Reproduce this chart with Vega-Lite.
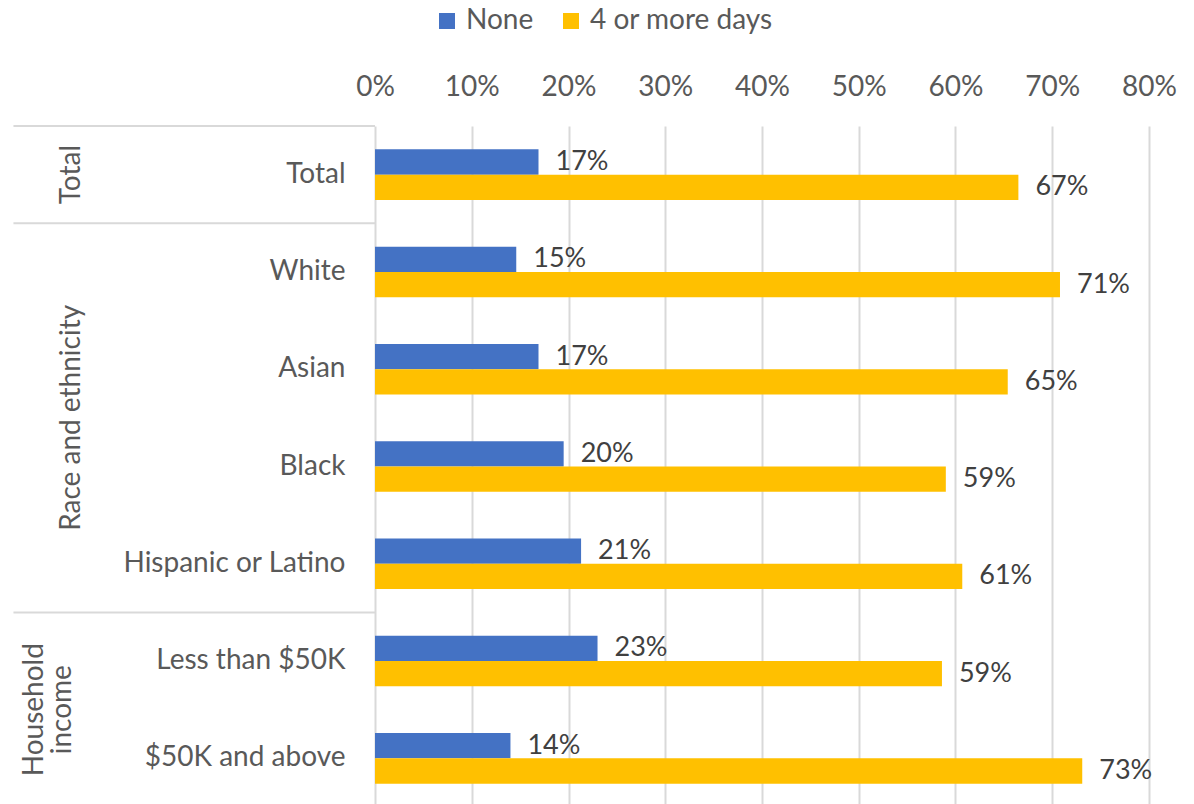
{
  "$schema": "https://vega.github.io/schema/vega-lite/v6.json",
  "autosize": {"type": "none"},
  "padding": {"left": 375, "top": 126, "right": 45, "bottom": 0},
  "width": 774,
  "height": 681,
  "background": "white",
  "config": {
    "view": {"stroke": null},
    "font": "Lato",
    "axis": {"labelFont": "Lato", "labelFontSize": 28, "labelColor": "#595959"},
    "legend": {"labelFont": "Lato", "labelFontSize": 28, "labelColor": "#595959", "labelLimit": 400}
  },
  "datasets": {
    "bars": [
      {"group": "Total", "category": "Total", "series": "None", "value": 0.169},
      {"group": "Total", "category": "Total", "series": "4 or more days", "value": 0.665},
      {"group": "Race and ethnicity", "category": "White", "series": "None", "value": 0.146},
      {"group": "Race and ethnicity", "category": "White", "series": "4 or more days", "value": 0.708},
      {"group": "Race and ethnicity", "category": "Asian", "series": "None", "value": 0.169},
      {"group": "Race and ethnicity", "category": "Asian", "series": "4 or more days", "value": 0.654},
      {"group": "Race and ethnicity", "category": "Black", "series": "None", "value": 0.195},
      {"group": "Race and ethnicity", "category": "Black", "series": "4 or more days", "value": 0.59},
      {"group": "Race and ethnicity", "category": "Hispanic or Latino", "series": "None", "value": 0.213},
      {"group": "Race and ethnicity", "category": "Hispanic or Latino", "series": "4 or more days", "value": 0.607},
      {"group": "Household income", "category": "Less than $50K", "series": "None", "value": 0.23},
      {"group": "Household income", "category": "Less than $50K", "series": "4 or more days", "value": 0.586},
      {"group": "Household income", "category": "$50K and above", "series": "None", "value": 0.14},
      {"group": "Household income", "category": "$50K and above", "series": "4 or more days", "value": 0.731}
    ],
    "groups": [
      {"group": "Total", "label": "Total", "first": "Total"},
      {"group": "Race and ethnicity", "label": "Race and ethnicity", "first": "White"},
      {"group": "Household income", "label": "Household\nincome", "first": "Less than $50K"}
    ]
  },
  "layer": [
    {
      "data": {"name": "bars"},
      "mark": {"type": "bar"},
      "encoding": {
        "y": {
          "field": "category", "type": "nominal",
          "sort": ["Total", "White", "Asian", "Black", "Hispanic or Latino", "Less than $50K", "$50K and above"],
          "scale": {"domain": ["Total", "White", "Asian", "Black", "Hispanic or Latino", "Less than $50K", "$50K and above"], "paddingInner": 0, "paddingOuter": 0},
          "axis": {"title": null, "domain": false, "ticks": false, "tickSize": 0, "labelPadding": 30, "labelLimit": 400}
        },
        "yOffset": {
          "field": "series", "type": "nominal",
          "sort": ["None", "4 or more days"],
          "scale": {"domain": ["None", "4 or more days"], "paddingInner": 0, "paddingOuter": 0.923}
        },
        "x": {
          "field": "value", "type": "quantitative",
          "scale": {"domain": [0, 0.8], "nice": false, "zero": true},
          "axis": {"orient": "top", "title": null, "values": [0, 0.1, 0.2, 0.3, 0.4, 0.5, 0.6, 0.7, 0.8], "format": ".0%", "grid": true, "gridColor": "#d9d9d9", "gridWidth": 2, "domain": false, "ticks": false, "tickSize": 0, "labelPadding": 25, "labelFlush": false, "labelOverlap": false}
        },
        "color": {
          "field": "series", "type": "nominal",
          "scale": {"domain": ["None", "4 or more days"], "range": ["#4472C4", "#FFC000"]},
          "legend": {"title": null, "orient": "none", "legendX": 58, "legendY": -119, "direction": "horizontal", "symbolType": "square", "symbolSize": 256, "symbolStrokeWidth": 0, "columnPadding": 23, "labelOffset": 5}
        }
      }
    },
    {
      "data": {"name": "bars"},
      "mark": {"type": "text", "align": "left", "baseline": "middle", "dx": 17, "fontSize": 27, "font": "Lato", "color": "#404040"},
      "encoding": {
        "y": {"field": "category", "type": "nominal", "sort": ["Total", "White", "Asian", "Black", "Hispanic or Latino", "Less than $50K", "$50K and above"]},
        "yOffset": {"field": "series", "type": "nominal", "sort": ["None", "4 or more days"]},
        "x": {"field": "value", "type": "quantitative"},
        "text": {"field": "value", "type": "quantitative", "format": ".0%"}
      }
    },
    {
      "data": {"name": "groups"},
      "mark": {"type": "rule", "color": "#d9d9d9", "strokeWidth": 2, "clip": false},
      "encoding": {
        "y": {"field": "first", "type": "nominal", "bandPosition": 0},
        "x": {"datum": -0.3737},
        "x2": {"datum": 0}
      }
    },
    {
      "data": {"name": "groups"},
      "transform": [{"filter": "datum.group === 'Total'"}],
      "mark": {"type": "text", "angle": 270, "align": "center", "baseline": "middle", "fontSize": 28, "font": "Lato", "color": "#595959", "clip": false},
      "encoding": {
        "y": {"datum": "Total", "bandPosition": 0.5},
        "x": {"datum": -0.3128},
        "text": {"field": "label"}
      }
    },
    {
      "data": {"name": "groups"},
      "transform": [{"filter": "datum.group === 'Race and ethnicity'"}],
      "mark": {"type": "text", "angle": 270, "align": "center", "baseline": "middle", "fontSize": 28, "font": "Lato", "color": "#595959", "clip": false},
      "encoding": {
        "y": {"datum": "Black", "bandPosition": 0},
        "x": {"datum": -0.3128},
        "text": {"field": "label"}
      }
    },
    {
      "data": {"name": "groups"},
      "transform": [{"filter": "datum.group === 'Household income'"}],
      "mark": {"type": "text", "angle": 270, "align": "center", "baseline": "middle", "fontSize": 28, "font": "Lato", "color": "#595959", "lineBreak": "\n", "lineHeight": 28, "clip": false},
      "encoding": {
        "y": {"datum": "$50K and above", "bandPosition": 0},
        "x": {"datum": -0.3512},
        "text": {"field": "label"}
      }
    }
  ]
}
